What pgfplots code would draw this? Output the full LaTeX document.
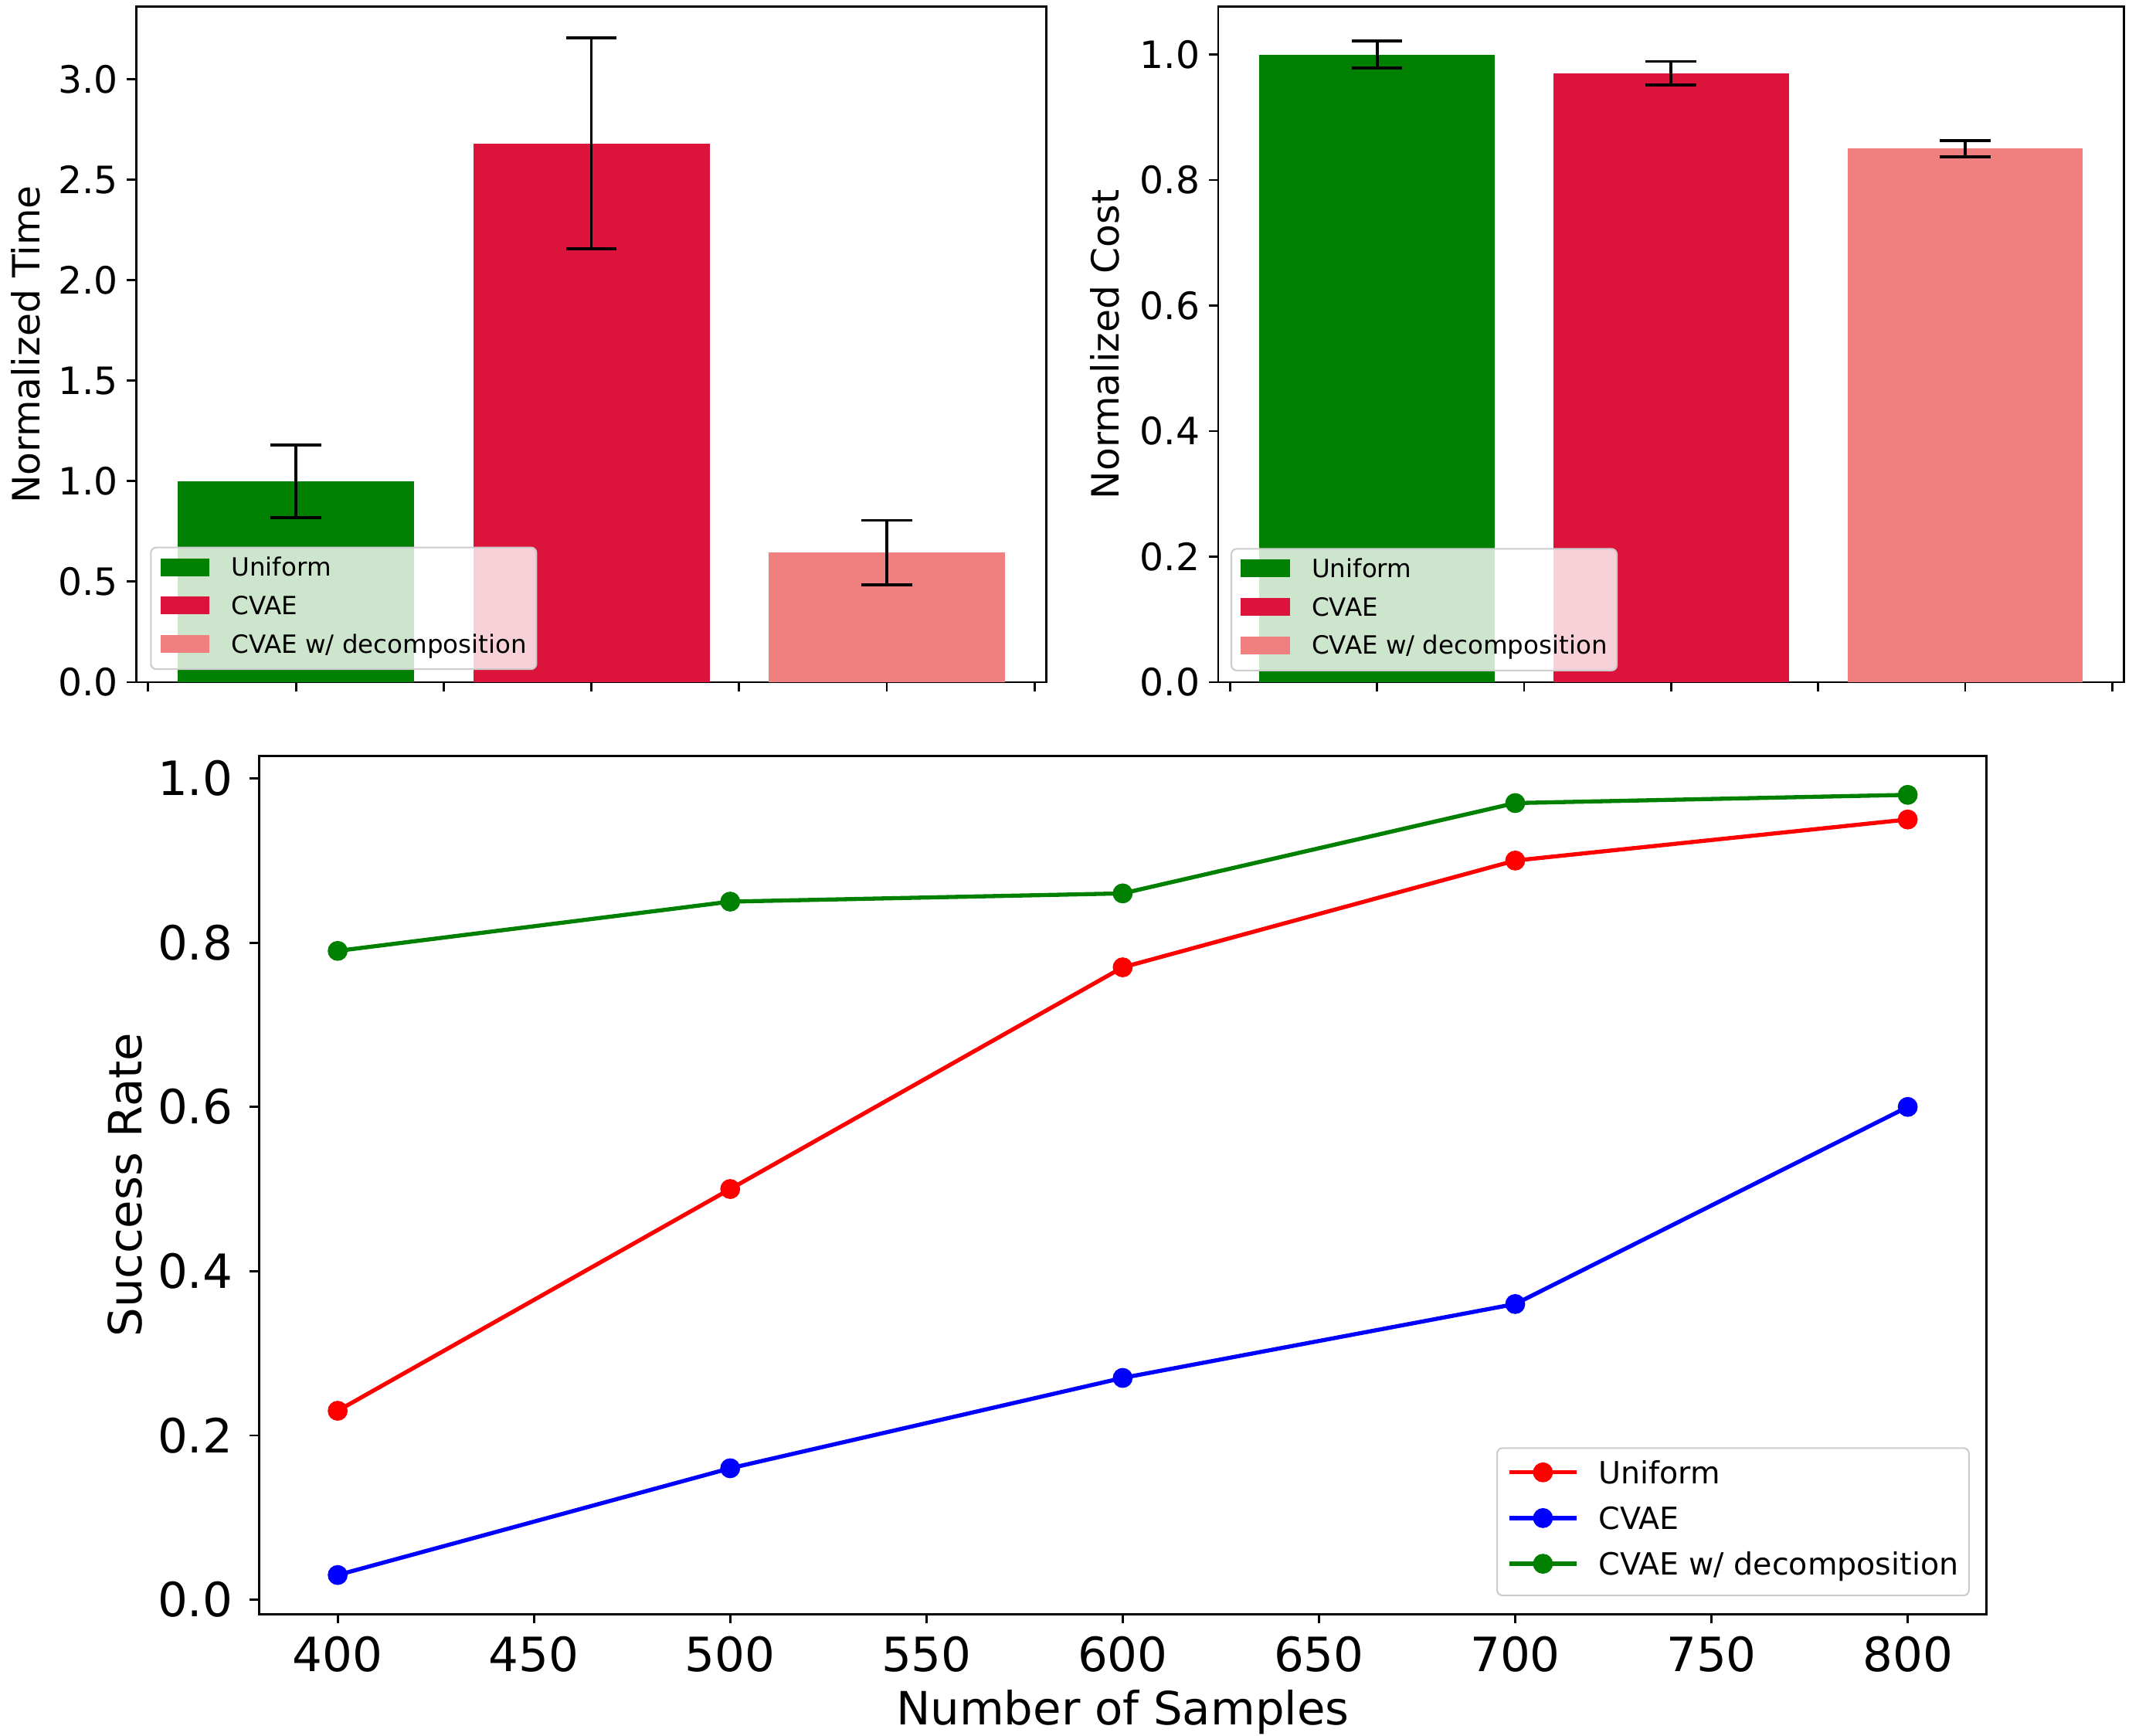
\documentclass[border=0pt]{standalone}
\usepackage{fontspec}
\setmainfont{DejaVu Sans}
\usepackage{pgfplots}
\pgfplotsset{compat=1.18}
\definecolor{cgreen}{RGB}{0,128,0}
\definecolor{ccrimson}{RGB}{220,20,60}
\definecolor{ccoral}{RGB}{240,128,128}
\definecolor{cred}{RGB}{255,0,0}
\definecolor{cblue}{RGB}{0,0,255}
\definecolor{legframe}{RGB}{204,204,204}
\pgfplotsset{
  base/.style={
    scale only axis,
    axis line style={black, line width=0.8pt},
    tick align=outside,
    tick pos=left,
    major tick length=3.5pt,
    every tick/.style={black, line width=0.8pt},
    /pgf/number format/assume math mode=true,
  },
  bartop/.style={
    base,
    height=247.5pt,
    xmin=-0.54, xmax=2.54, ymin=0,
    xtick={-0.5,0,0.5,1,1.5,2,2.5},
    xticklabels={{},{},{},{},{},{},{}},
    tick label style={font=\fontsize{13.8}{16}\selectfont},
    label style={font=\fontsize{13.8}{16}\selectfont},
    yticklabel style={inner sep=0pt, xshift=-3pt, /pgf/number format/.cd, fixed, fixed zerofill, precision=1},
    legend style={
      anchor=south west,
      font=\fontsize{9.2}{11}\selectfont,
      draw=legframe, line width=0.6pt,
      fill=white, fill opacity=0.8, text opacity=1, draw opacity=1,
      rounded corners=2pt,
      inner xsep=3.5pt, inner ysep=3.75pt,
      row sep=5.2pt,
      nodes={inner sep=0pt, text height=6.7pt, text depth=2.2pt, anchor=base west},
      /tikz/every odd column/.append style={column sep=8pt},
    },
    legend image code/.code={\fill[##1, draw=none, sharp corners, fill opacity=1] (0pt,0pt) rectangle (18pt,6.5pt);},
    errb/.style={error bars/.cd, y dir=both, y explicit,
      error bar style={black, line width=1.1pt},
      error mark options={black, line width=1.1pt, rotate=90, mark size=9.3pt}},
  },
}
\begin{document}
\begin{tikzpicture}
\useasboundingbox (0pt,0pt) rectangle (784pt,-636pt);
% ---------------- top left: time
\begin{axis}[bartop,
  at={(50pt,-2.5pt)}, anchor=north west,
  width=333.5pt,
  ymax=3.36,
  ytick={0,0.5,1,1.5,2,2.5,3},
  ylabel={Normalized Time},
  ylabel style={at={(axis description cs:-0.122,0.5)}, anchor=center},
  legend style={at={(axis description cs:0.015,0.018)}},
]
\addplot[ybar, bar width=0.8, bar shift=0pt, fill=cgreen, draw=none, errb]
  coordinates {(0,1.00) +- (0,0.18)};
\addlegendentry{Uniform}
\addplot[ybar, bar width=0.8, bar shift=0pt, fill=ccrimson, draw=none, errb]
  coordinates {(1,2.68) +- (0,0.525)};
\addlegendentry{CVAE}
\addplot[ybar, bar width=0.8, bar shift=0pt, fill=ccoral, draw=none, errb]
  coordinates {(2,0.645) +- (0,0.16)};
\addlegendentry{CVAE w/ decomposition}
\end{axis}
% ---------------- top right: cost
\begin{axis}[bartop,
  at={(446.5pt,-2.5pt)}, anchor=north west,
  width=332pt,
  ymax=1.076,
  ytick={0,0.2,0.4,0.6,0.8,1.0},
  ylabel={Normalized Cost},
  ylabel style={at={(axis description cs:-0.125,0.5)}, anchor=center},
  legend style={at={(axis description cs:0.0136,0.016)}},
]
\addplot[ybar, bar width=0.8, bar shift=0pt, fill=cgreen, draw=none, errb]
  coordinates {(0,1.00) +- (0,0.022)};
\addlegendentry{Uniform}
\addplot[ybar, bar width=0.8, bar shift=0pt, fill=ccrimson, draw=none, errb]
  coordinates {(1,0.970) +- (0,0.019)};
\addlegendentry{CVAE}
\addplot[ybar, bar width=0.8, bar shift=0pt, fill=ccoral, draw=none, errb]
  coordinates {(2,0.850) +- (0,0.013)};
\addlegendentry{CVAE w/ decomposition}
\end{axis}
% ---------------- bottom: success rate
\begin{axis}[base,
  at={(95pt,-277pt)}, anchor=north west,
  width=633pt, height=314.5pt,
  xmin=380, xmax=820, ymin=-0.0175, ymax=1.0275,
  xtick={400,450,500,550,600,650,700,750,800},
  ytick={0,0.2,0.4,0.6,0.8,1.0},
  tick label style={font=\fontsize{17.3}{20}\selectfont},
  label style={font=\fontsize{16.8}{20}\selectfont},
  yticklabel style={inner sep=0pt, xshift=-6pt, /pgf/number format/.cd, fixed, fixed zerofill, precision=1},
  xticklabel style={inner sep=0pt, yshift=-4.5pt},
  xlabel={Number of Samples},
  ylabel={Success Rate},
  xlabel style={at={(axis description cs:0.5,-0.114)}, anchor=center},
  ylabel style={at={(axis description cs:-0.0778,0.5)}, anchor=center},
  legend style={
    at={(axis description cs:0.9905,0.0207)}, anchor=south east,
    font=\fontsize{11.2}{13}\selectfont,
    draw=legframe, line width=0.6pt,
    fill=white, fill opacity=0.8, text opacity=1, draw opacity=1,
    rounded corners=2pt,
    inner xsep=3.85pt, inner ysep=4.8pt,
    row sep=5.85pt,
    nodes={inner sep=0pt, text height=8.2pt, text depth=2.7pt, anchor=base west},
    /tikz/every odd column/.append style={column sep=7.5pt},
  },
  legend image code/.code={\draw[#1, sharp corners, draw opacity=1, fill opacity=1, mark repeat=2, mark phase=2] plot coordinates {(0pt,4.1pt) (12.2pt,4.1pt) (24.4pt,4.1pt)};},
]
\addplot[cred, line width=1.5pt, mark=*, mark size=3.4pt, mark options={fill=cred, draw=cred, line width=0.5pt}]
  coordinates {(400,0.23) (500,0.50) (600,0.77) (700,0.90) (800,0.95)};
\addlegendentry{Uniform}
\addplot[cblue, line width=1.5pt, mark=*, mark size=3.4pt, mark options={fill=cblue, draw=cblue, line width=0.5pt}]
  coordinates {(400,0.03) (500,0.16) (600,0.27) (700,0.36) (800,0.60)};
\addlegendentry{CVAE}
\addplot[cgreen, line width=1.5pt, mark=*, mark size=3.4pt, mark options={fill=cgreen, draw=cgreen, line width=0.5pt}]
  coordinates {(400,0.79) (500,0.85) (600,0.86) (700,0.97) (800,0.98)};
\addlegendentry{CVAE w/ decomposition}
\end{axis}
\end{tikzpicture}
\end{document}
